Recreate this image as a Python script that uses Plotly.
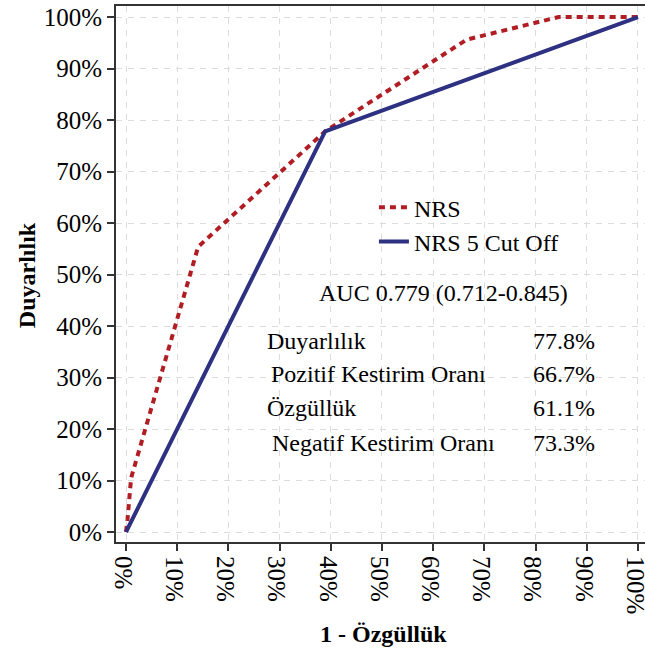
import plotly.graph_objects as go

# Data (percent)
nrs_x = [0, 0.3, 1.0, 14.1, 38.9, 66.5, 84.5, 100]
nrs_y = [0, 2.5, 10.5, 55.4, 77.8, 95.6, 100, 100]
cut_x = [0, 38.9, 100]
cut_y = [0, 77.8, 100]
tick_vals = [0, 10, 20, 30, 40, 50, 60, 70, 80, 90, 100]
tick_text = [f"{v}%" for v in tick_vals]
stat_labels = ["Duyarlılık", "Pozitif Kestirim Oranı", "Özgüllük", "Negatif Kestirim Oranı"]
stat_values = ["77.8%", "66.7%", "61.1%", "73.3%"]
auc_text = "AUC 0.779 (0.712-0.845)"

FONT = "Liberation Serif"
RED = "#B01E24"
BLUE = "#2E3182"

fig = go.Figure()
fig.add_trace(go.Scatter(x=nrs_x, y=nrs_y, mode="lines", name="NRS",
                         line=dict(color=RED, width=4, dash="6px,5px")))
fig.add_trace(go.Scatter(x=cut_x, y=cut_y, mode="lines", name="NRS 5 Cut Off",
                         line=dict(color=BLUE, width=4)))

ann = []
ann.append(dict(x=37.4, y=46.4, text=auc_text, xanchor="left", yanchor="middle",
                showarrow=False, font=dict(family=FONT, size=24, color="black")))
stat_x = [27.1, 27.9, 27.1, 28.1]
stat_y = [37.1, 30.7, 24.1, 17.3]
for lx, ly, lab, val in zip(stat_x, stat_y, stat_labels, stat_values):
    ann.append(dict(x=lx, y=ly, text=lab, xanchor="left", yanchor="middle", showarrow=False,
                    font=dict(family=FONT, size=24, color="black")))
    ann.append(dict(x=92.0, y=ly, text=val, xanchor="right", yanchor="middle", showarrow=False,
                    font=dict(family=FONT, size=24, color="black")))
ann.append(dict(xref="paper", yref="paper", x=-0.168, y=0.498, text="<b>Duyarlılık</b>",
                textangle=-90, xanchor="center", yanchor="middle", showarrow=False,
                font=dict(family=FONT, size=24, color="black")))
ann.append(dict(xref="paper", yref="paper", x=0.505, y=-0.172, text="<b>1 - Özgüllük</b>",
                xanchor="center", yanchor="middle", showarrow=False,
                font=dict(family=FONT, size=24, color="black")))

axis_common = dict(
    tickvals=tick_vals, ticktext=tick_text, ticks="outside", ticklen=7, tickwidth=1.5,
    tickcolor="#333", showline=True, linecolor="#333", linewidth=2,
    showgrid=True, gridcolor="#DCDCDC", gridwidth=1, griddash="6px,6px",
    zeroline=False, tickfont=dict(family=FONT, size=25, color="black"),
    ticklabeloverflow="allow", automargin=False,
)

fig.update_layout(
    width=645, height=652,
    margin=dict(l=116, r=0, t=6, b=110, autoexpand=False),
    paper_bgcolor="white", plot_bgcolor="white",
    font=dict(family=FONT, size=24, color="black"),
    xaxis=dict(range=[-1.953, 101.37], tickangle=90, mirror=True, ticklabelshift=-3,
               **axis_common),
    yaxis=dict(range=[-1.94, 102.14], **axis_common),
    showlegend=True,
    legend=dict(x=0.4876, y=0.592, xanchor="left", yanchor="middle",
                bgcolor="rgba(0,0,0,0)", font=dict(family=FONT, size=24, color="black"),
                tracegroupgap=0, itemwidth=30),
    annotations=ann,
)

fig.write_html(
    "out.html",
    config={"displayModeBar": False},
    post_script="document.body.style.margin='0';"
                "document.body.style.overflow='hidden';"
                "document.documentElement.style.overflow='hidden';",
)
